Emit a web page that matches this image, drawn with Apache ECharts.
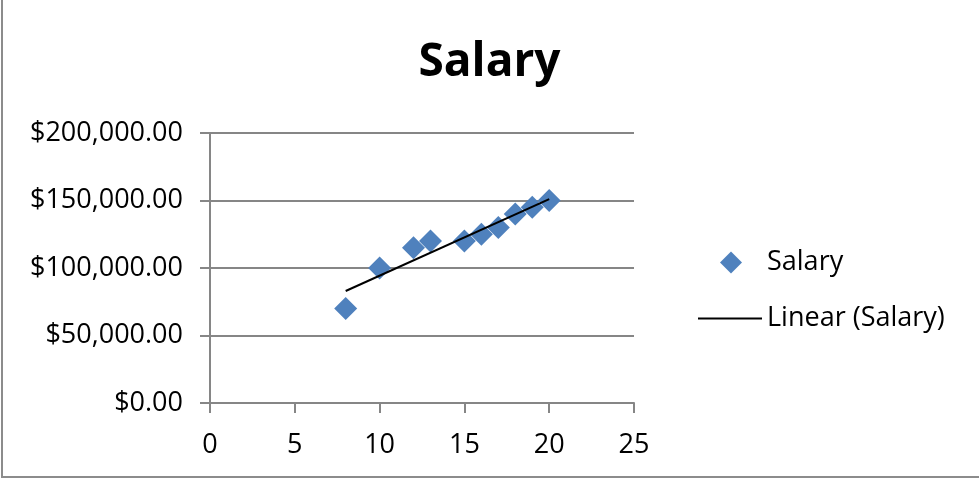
<!DOCTYPE html>
<html>
<head>
<meta charset="utf-8">
<script src="https://cdn.jsdelivr.net/npm/echarts@6/dist/echarts.min.js"></script>
<style>
  html, body { margin: 0; padding: 0; background: #fff; }
  #main { width: 979px; height: 480px; }
</style>
</head>
<body>
<div id="main"></div>
<script>
  // years of experience vs salary
  var years = [8, 10, 12, 13, 15, 16, 17, 18, 19, 20];
  var salary = [70000, 100000, 115000, 120000, 120000, 125000, 130000, 140000, 145000, 150000];

  var points = years.map(function (x, i) { return [x, salary[i]]; });

  // least squares trendline (Excel "Linear")
  var n = years.length, mx = 0, my = 0;
  for (var i = 0; i < n; i++) { mx += years[i]; my += salary[i]; }
  mx /= n; my /= n;
  var sxx = 0, sxy = 0;
  for (var i = 0; i < n; i++) {
    sxx += (years[i] - mx) * (years[i] - mx);
    sxy += (years[i] - mx) * (salary[i] - my);
  }
  var slope = sxy / sxx, icpt = my - slope * mx;
  var xMin = Math.min.apply(null, years), xMax = Math.max.apply(null, years);
  var trend = [[xMin, icpt + slope * xMin], [xMax, icpt + slope * xMax]];

  function money(v) {
    var s = v.toFixed(2).split('.');
    return '$' + s[0].replace(/\B(?=(\d{3})+(?!\d))/g, ',') + '.' + s[1];
  }

  var font = 'Open Sans';
  var gray = '#868686';

  var myChart = echarts.init(document.getElementById('main'));
  myChart.setOption({
    animation: false,
    textStyle: { fontFamily: font },
    title: {
      text: 'Salary',
      left: 'center',
      top: 35,
      textStyle: { fontSize: 46, fontWeight: 'bold', color: '#000', fontFamily: font }
    },
    grid: { left: 210, right: 345, top: 133, bottom: 77 },
    legend: [
      {
        left: 715, top: 244,
        itemWidth: 22, itemHeight: 22,
        data: [{ name: 'Salary', icon: 'diamond' }],
        itemStyle: { opacity: 1 },
        textStyle: { fontSize: 27, color: '#000', padding: [0, 0, 0, 20] }
      },
      {
        left: 693, top: 300,
        itemWidth: 64, itemHeight: 2,
        data: [{ name: 'Linear (Salary)', icon: 'path://M0,0H64V2H0Z' }],
        textStyle: { fontSize: 27, color: '#000' }
      }
    ],
    xAxis: {
      type: 'value',
      min: 0, max: 25, interval: 5,
      axisLine: { show: true, lineStyle: { color: gray, width: 2 } },
      axisTick: { show: true, length: 10, lineStyle: { color: gray, width: 2 } },
      splitLine: { show: false },
      axisLabel: { fontSize: 27, color: '#000', margin: 29 }
    },
    yAxis: {
      type: 'value',
      min: 0, max: 200000, interval: 50000,
      axisLine: { show: true, lineStyle: { color: gray, width: 2 } },
      axisTick: { show: true, length: 10, lineStyle: { color: gray, width: 2 } },
      splitLine: { show: true, lineStyle: { color: gray, width: 2 } },
      axisLabel: { fontSize: 27, color: '#000', margin: 27, formatter: money }
    },
    series: [
      {
        name: 'Salary',
        type: 'scatter',
        symbol: 'diamond',
        symbolSize: 23,
        itemStyle: { color: '#4F81BD', opacity: 1 },
        data: points,
        z: 3
      },
      {
        name: 'Linear (Salary)',
        type: 'line',
        symbol: 'none',
        lineStyle: { color: '#000', width: 2 },
        itemStyle: { color: '#000' },
        data: trend,
        z: 4
      }
    ],
    graphic: [{
      type: 'rect',
      shape: { x: 2, y: -2, width: 990, height: 479 },
      style: { fill: 'none', stroke: '#8c8c8c', lineWidth: 2 },
      silent: true
    }]
  });
</script>
</body>
</html>
